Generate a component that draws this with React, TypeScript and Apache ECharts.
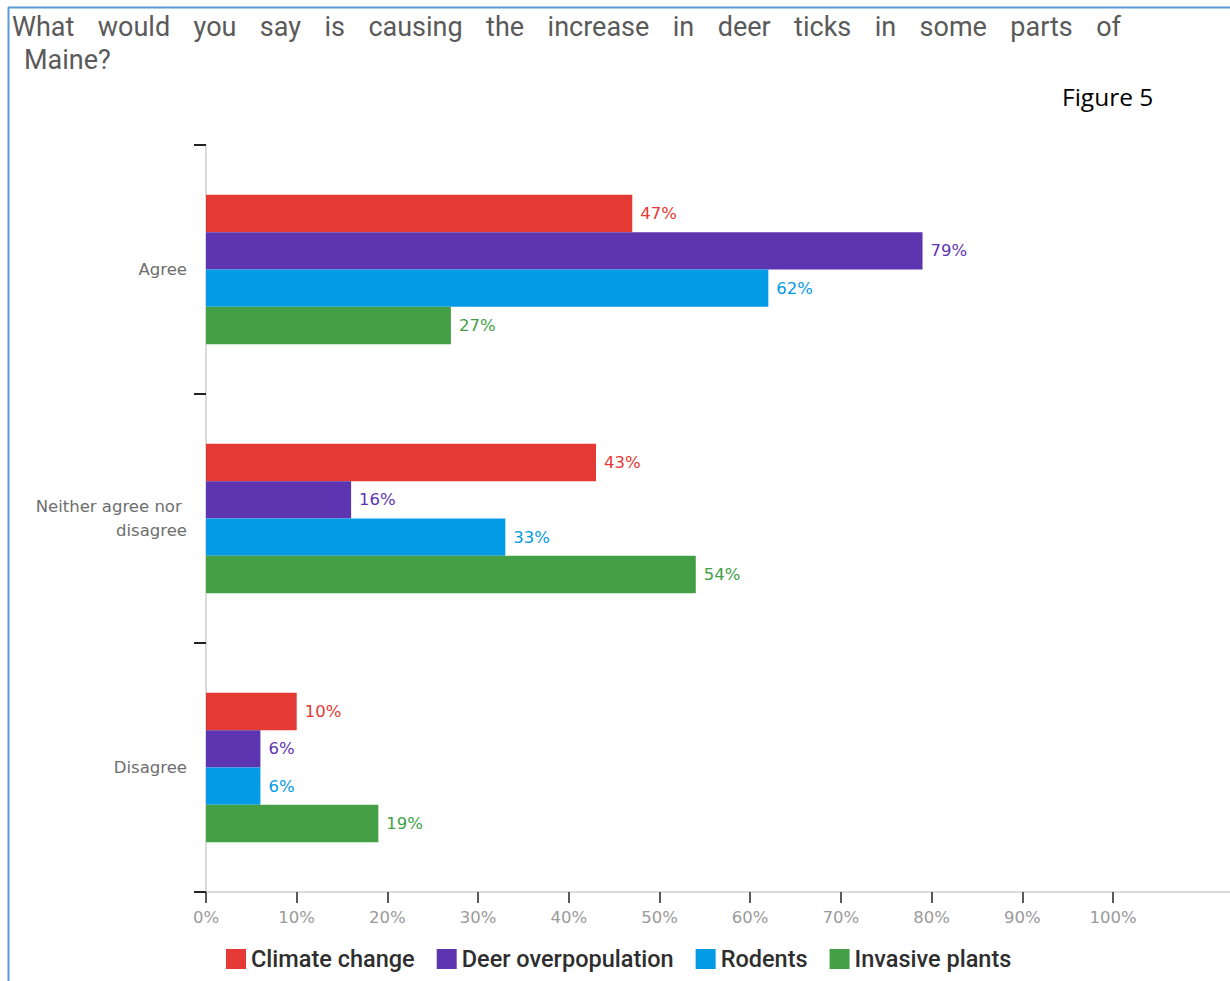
import React, { useEffect, useRef } from "react";
import * as echarts from "echarts";

const categories = ["Agree", "Neither agree nor disagree", "Disagree"];
const seriesNames = ["Climate change", "Deer overpopulation", "Rodents", "Invasive plants"];
const climateChange = [47, 43, 10];
const deerOverpopulation = [79, 16, 6];
const rodents = [62, 33, 6];
const invasivePlants = [27, 54, 19];
const seriesValues = [climateChange, deerOverpopulation, rodents, invasivePlants];
const seriesColors = ["#E53935", "#5E35B1", "#039BE5", "#43A047"];
const xTickValues = [0, 10, 20, 30, 40, 50, 60, 70, 80, 90, 100];
const titleLine1 = "What would you say is causing the increase in deer ticks in some parts of";
const titleLine2 = "Maine?";
const figureLabel = "Figure 5";

const TITLE_FONT = "27px Roboto";
const LABEL_FONT = "DejaVu Sans";

function justifiedWords(text: string, x0: number, x1: number, y: number) {
  const words = text.split(" ");
  const c = document.createElement("canvas").getContext("2d")!;
  c.font = TITLE_FONT;
  const widths = words.map((w) => c.measureText(w).width);
  const total = widths.reduce((a, b) => a + b, 0);
  const gap = (x1 - x0 - total) / (words.length - 1);
  let x = x0;
  return words.map((w, i) => {
    const el = {
      type: "text",
      x,
      y,
      style: {
        text: w,
        font: TITLE_FONT,
        fill: "#5a5a5a",
        verticalAlign: "middle",
      },
    };
    x += widths[i] + gap;
    return el;
  });
}

export default function App() {
  const ref = useRef<HTMLDivElement>(null);
  useEffect(() => {
    const chart = echarts.init(ref.current!, null, { renderer: "svg" });
    const graphic: any[] = [
      { type: "line", shape: { x1: 8, y1: 7.5, x2: 1230, y2: 7.5 }, style: { stroke: "#5B9BD5", lineWidth: 2 } },
      { type: "line", shape: { x1: 8.5, y1: 7, x2: 8.5, y2: 981 }, style: { stroke: "#5B9BD5", lineWidth: 2 } },
      ...justifiedWords(titleLine1, 12, 1121, 27),
      {
        type: "text",
        x: 24,
        y: 60,
        style: { text: titleLine2, font: TITLE_FONT, fill: "#5a5a5a", verticalAlign: "middle" },
      },
      {
        type: "text",
        x: 1062,
        y: 96,
        style: { text: figureLabel, font: "24.5px 'Open Sans'", fill: "#000", verticalAlign: "middle" },
      },
    ];
    chart.setOption({
      animation: false,
      textStyle: { fontFamily: LABEL_FONT },
      graphic,
      grid: { left: 206, right: 0, top: 145, bottom: 89, containLabel: false },
      legend: {
        bottom: 5,
        left: 221,
        icon: "rect",
        itemWidth: 20,
        itemHeight: 20,
        itemGap: 22,
        data: seriesNames,
        textStyle: { fontSize: 23.5, color: "#2e2e2e", fontWeight: 500, fontFamily: "Roboto" },
      },
      xAxis: {
        type: "value",
        min: 0,
        max: 112.9,
        splitLine: { show: false },
        axisLine: { show: true, lineStyle: { color: "#cfcfcf", width: 1.5 } },
        axisTick: {
          show: true,
          customValues: xTickValues,
          length: 11,
          lineStyle: { color: "#222", width: 1.5 },
        },
        axisLabel: {
          customValues: xTickValues,
          formatter: "{value}%",
          color: "#9a9a9a",
          fontSize: 16.5,
          fontFamily: LABEL_FONT,
          margin: 17,
        },
      },
      yAxis: {
        type: "category",
        inverse: true,
        data: categories,
        axisLine: { show: true, lineStyle: { color: "#cfcfcf", width: 1.5 } },
        axisTick: { show: true, length: 12, lineStyle: { color: "#222", width: 2 } },
        axisLabel: {
          color: "#6e6e6e",
          fontSize: 16.5,
          fontFamily: LABEL_FONT,
          margin: 19,
          width: 175,
          overflow: "break",
          lineHeight: 24.5,
          align: "right",
        },
      },
      series: seriesNames.map((name, i) => ({
        type: "bar",
        name,
        data: seriesValues[i],
        barGap: "0%",
        barCategoryGap: "40%",
        itemStyle: { color: seriesColors[i] },
        label: {
          show: true,
          position: "right",
          distance: 8,
          formatter: "{c}%",
          color: seriesColors[i],
          fontSize: 16.5,
          fontFamily: LABEL_FONT,
        },
      })),
    });
    return () => chart.dispose();
  }, []);
  return (
    <div
      ref={ref}
      style={{ position: "absolute", left: 0, top: 0, width: 1230, height: 981, background: "#fff" }}
    />
  );
}
